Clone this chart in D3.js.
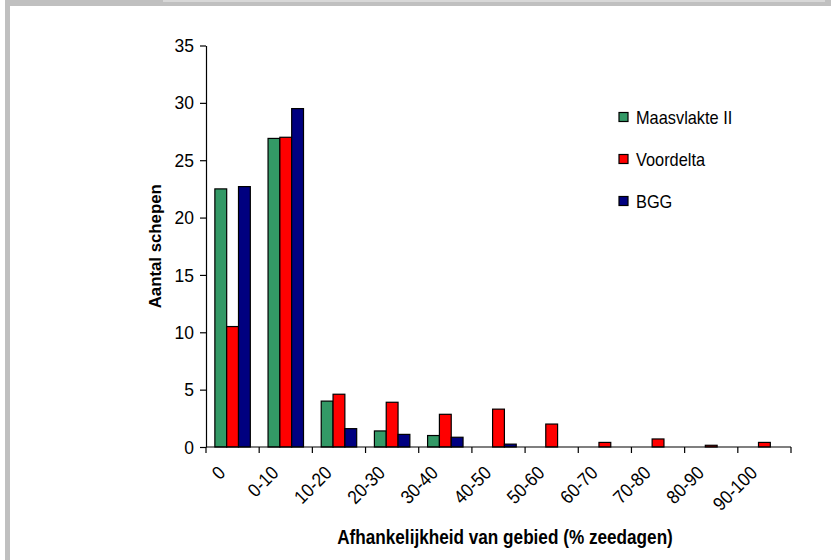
<!DOCTYPE html>
<html>
<head>
<meta charset="utf-8">
<script src="https://cdn.jsdelivr.net/npm/d3@7/dist/d3.min.js"></script>
<style>
  html, body { margin: 0; padding: 0; background: #fff; }
  svg { display: block; }
  text { font-family: "Liberation Sans", Arial, sans-serif; fill: #000; }
</style>
</head>
<body>
<svg id="chart" width="831" height="560"></svg>
<script>
const categories = ["0", "0-10", "10-20", "20-30", "30-40", "40-50", "50-60", "60-70", "70-80", "80-90", "90-100"];
const seriesNames = ["Maasvlakte II", "Voordelta", "BGG"];
const maasvlakte = [22.5, 26.9, 4.0, 1.4, 1.0, 0, 0, 0, 0, 0, 0];
const voordelta = [10.5, 27.0, 4.6, 3.9, 2.85, 3.3, 2.0, 0.4, 0.7, 0.15, 0.4];
const bgg = [22.7, 29.5, 1.6, 1.1, 0.85, 0.25, 0, 0, 0, 0, 0];
const yTicks = [0, 5, 10, 15, 20, 25, 30, 35];
const colors = ["#339966", "#FF0000", "#000080"];
const yTitle = "Aantal schepen";
const xTitle = "Afhankelijkheid van gebied (% zeedagen)";

(function () {
const series = [maasvlakte, voordelta, bgg];
const svg = d3.select("#chart");

// window frame
svg.append("rect").attr("x", 5).attr("y", 0).attr("width", 826).attr("height", 6).attr("fill", "#c0c0c0");
svg.append("rect").attr("x", 163).attr("y", 0).attr("width", 662).attr("height", 2).attr("fill", "#d8d8d8");
svg.append("rect").attr("x", 5).attr("y", 0).attr("width", 5).attr("height", 560).attr("fill", "#c0c0c0");

const pLeft = 206, pRight = 791, pTop = 45.5, pBottom = 447;
const x = d3.scaleBand().domain(categories).range([pLeft, pRight]).padding(0);
const y = d3.scaleLinear().domain([0, 35]).range([pBottom, pTop]);
const bw = x.bandwidth();
const barW = bw / 4.5;
const sub = d3.scaleBand().domain(seriesNames).range([(bw - 3 * barW) / 2, (bw + 3 * barW) / 2]).padding(0);

// bars
const data = [];
categories.forEach((c, i) => {
  seriesNames.forEach((s, j) => {
    data.push({ c, s, v: series[j][i], color: colors[j] });
  });
});
svg.append("g").selectAll("rect").data(data.filter(d => d.v > 0)).join("rect")
  .attr("x", d => x(d.c) + sub(d.s))
  .attr("y", d => y(d.v))
  .attr("width", sub.bandwidth())
  .attr("height", d => y(0) - y(d.v))
  .attr("fill", d => d.color)
  .attr("stroke", "#000")
  .attr("stroke-width", 1.2);

// y axis
const yAxis = d3.axisLeft(y).tickValues(yTicks).tickSize(6).tickPadding(6).tickSizeOuter(0);
const gy = svg.append("g").attr("transform", `translate(${pLeft},0)`).call(yAxis);
gy.attr("font-family", null).attr("font-size", null);
gy.select(".domain").attr("stroke", "#000").attr("stroke-width", 1.2);
gy.selectAll(".tick line").attr("stroke", "#000").attr("stroke-width", 1.2);
gy.selectAll(".tick text").attr("data-narrow", 0.92).attr("font-size", 19).attr("fill", "#000");

// x axis with ticks at band boundaries
const gx = svg.append("g").attr("transform", `translate(0,${pBottom})`);
gx.append("line").attr("x1", pLeft).attr("x2", pRight).attr("stroke", "#000").attr("stroke-width", 1.2);
const boundaries = categories.map(c => x(c)).concat([pRight]);
gx.selectAll("line.tk").data(boundaries).join("line").attr("class", "tk")
  .attr("x1", d => d).attr("x2", d => d).attr("y1", 0).attr("y2", 6)
  .attr("stroke", "#000").attr("stroke-width", 1.2);
gx.selectAll("text").data(categories).join("text")
  .attr("data-narrow", 0.9)
  .attr("font-size", 19)
  .attr("text-anchor", "end")
  .attr("transform", d => `translate(${x(d) + bw / 2 - 6},${27}) rotate(-45)`)
  .text(d => d);

// axis titles
svg.append("text")
  .attr("transform", `translate(161,${(pTop + pBottom) / 2}) rotate(-90)`)
  .attr("text-anchor", "middle")
  .attr("font-weight", "bold")
  .attr("font-size", 16.8)
  .text(yTitle);

svg.append("text")
  .attr("data-narrow", 0.88)
  .attr("x", 505).attr("y", 544)
  .attr("text-anchor", "middle")
  .attr("font-weight", "bold")
  .attr("font-size", 19.5)
  .text(xTitle);

// legend
const legend = svg.append("g").selectAll("g").data(seriesNames).join("g")
  .attr("transform", (d, i) => `translate(619,${117 + i * 42})`);
legend.append("rect").attr("x", 0).attr("y", -4.5).attr("width", 9).attr("height", 9)
  .attr("fill", (d, i) => colors[i]).attr("stroke", "#000").attr("stroke-width", 1.2);
legend.append("text").attr("data-narrow", 0.86).attr("x", 17).attr("y", 7)
  .attr("font-size", 19).text(d => d);

// condensed look: compress glyphs horizontally
svg.selectAll("text[data-narrow]").each(function () {
  const f = +this.getAttribute("data-narrow");
  const len = this.getComputedTextLength();
  d3.select(this).attr("textLength", len * f).attr("lengthAdjust", "spacingAndGlyphs");
});
})();
</script>
</body>
</html>
